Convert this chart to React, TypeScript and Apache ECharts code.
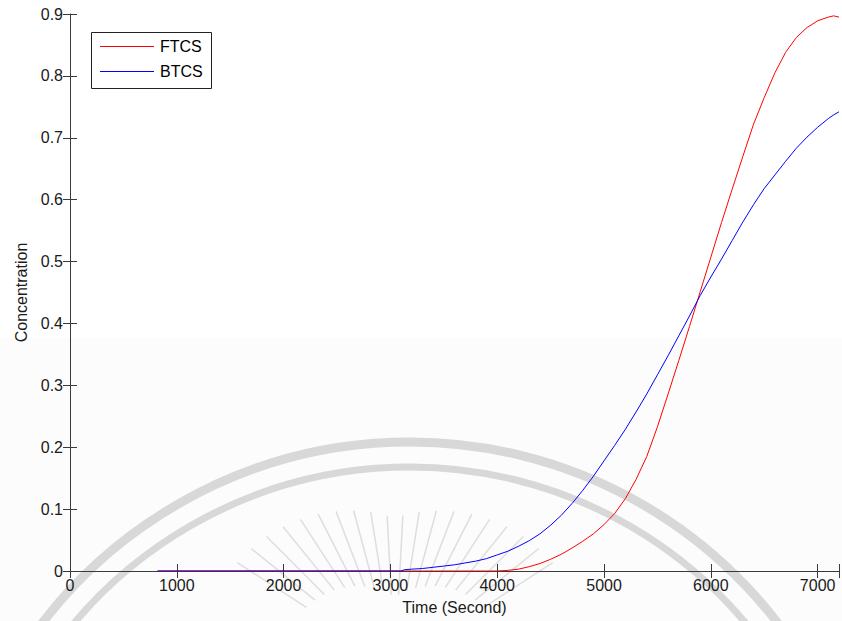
import React, { useEffect, useRef } from "react";
import * as echarts from "echarts";

// Time (s) sample points shared by both schemes
const timeSeconds = [
  820, 3100, 3130, 3200, 3300, 3400, 3500, 3600, 3700, 3800, 3900, 4000, 4100,
  4200, 4300, 4400, 4500, 4600, 4700, 4800, 4900, 5000, 5100, 5200, 5300, 5400,
  5500, 5600, 5700, 5800, 5900, 6000, 6100, 6200, 6300, 6400, 6500, 6600, 6700,
  6800, 6900, 7000, 7100, 7150, 7200,
];

// FTCS concentration
const ftcsValues = [
  0, 0, 0, 0, 0, 0, 0, 0, 0, 0, 0, 0, 0.001, 0.003, 0.007, 0.012, 0.019, 0.027,
  0.037, 0.048, 0.06, 0.075, 0.093, 0.117, 0.148, 0.185, 0.233, 0.286, 0.34,
  0.395, 0.451, 0.507, 0.563, 0.617, 0.67, 0.722, 0.765, 0.805, 0.838, 0.862,
  0.878, 0.889, 0.895, 0.897, 0.895,
];

// BTCS concentration
const btcsValues = [
  0, 0, 0.002, 0.003, 0.004, 0.006, 0.008, 0.01, 0.013, 0.016, 0.02, 0.026,
  0.032, 0.04, 0.049, 0.06, 0.074, 0.09, 0.109, 0.13, 0.153, 0.178, 0.203,
  0.229, 0.257, 0.286, 0.317, 0.348, 0.38, 0.412, 0.445, 0.475, 0.504, 0.534,
  0.564, 0.592, 0.618, 0.64, 0.662, 0.683, 0.701, 0.717, 0.731, 0.737, 0.742,
];

const seriesNames = ["FTCS", "BTCS"];
const seriesColors = ["#ff0000", "#0000ff"];
const xRange = [0, 7200];
const xTickStep = 1000;
const yRange = [0, 0.9];
const yTickStep = 0.1;
const xTitle = "Time (Second)";
const yTitle = "Concentration";

const FONT = "'Liberation Sans', Arial, Helvetica, sans-serif";
const AXIS_COLOR = "#3a3a3a";
const WM = "#d8d8d8";

function watermark() {
  const els: any[] = [
    {
      type: "rect",
      z: -3,
      silent: true,
      shape: { x: 0, y: 338, width: 842, height: 283 },
      style: { fill: "#fcfcfc" },
    },
    {
      type: "circle",
      z: -2,
      silent: true,
      shape: { cx: 410, cy: 906, r: 464 },
      style: { fill: "none", stroke: WM, lineWidth: 9 },
    },
    {
      type: "circle",
      z: -2,
      silent: true,
      shape: { cx: 410, cy: 906, r: 439 },
      style: { fill: "none", stroke: WM, lineWidth: 7 },
    },
  ];
  const cx = 395;
  const cy = 665;
  for (let a = -147; a <= -33; a += 6) {
    const t = (a * Math.PI) / 180;
    const c = Math.abs(Math.cos(t));
    const rOut = 147 + 49 * c;
    const rIn = 68 + 45 * c;
    els.push({
      type: "line",
      z: -2,
      silent: true,
      shape: {
        x1: cx + rIn * Math.cos(t),
        y1: cy + rIn * Math.sin(t),
        x2: cx + rOut * Math.cos(t),
        y2: cy + rOut * Math.sin(t),
      },
      style: { stroke: "#dedede", lineWidth: 1.5 },
    });
  }
  return els;
}

function legendBox() {
  const x0 = 91;
  const y0 = 32;
  const rowGap = 25;
  const children: any[] = [
    {
      type: "rect",
      shape: { x: x0 + 0.5, y: y0 + 0.5, width: 120, height: 56 },
      style: { fill: "#ffffff", stroke: "#222", lineWidth: 1 },
    },
  ];
  seriesNames.forEach((name, i) => {
    const y = y0 + 14 + i * rowGap + 0.5;
    children.push({
      type: "line",
      shape: { x1: x0 + 9, y1: y, x2: x0 + 63, y2: y },
      style: { stroke: seriesColors[i], lineWidth: 1 },
    });
    children.push({
      type: "text",
      x: x0 + 69,
      y: y,
      style: {
        text: name,
        fontFamily: FONT,
        fontSize: 16,
        fill: "#000",
        verticalAlign: "middle",
        align: "left",
      },
    });
  });
  return { type: "group", z: 100, silent: true, children };
}

export default function App() {
  const ref = useRef<HTMLDivElement>(null);
  useEffect(() => {
    if (!ref.current) return;
    const chart = echarts.init(ref.current, undefined, { renderer: "svg" });
    const ftcsData = timeSeconds.map((t, i) => [t, ftcsValues[i]]);
    const btcsData = timeSeconds.map((t, i) => [t, btcsValues[i]]);
    const tickLabel = {
      fontFamily: FONT,
      fontSize: 16,
      color: "#1a1a1a",
    };
    const xCommon = {
      type: "value",
      min: xRange[0],
      max: xRange[1],
      interval: xTickStep,
      splitLine: { show: false },
      axisLine: { show: true, lineStyle: { color: AXIS_COLOR, width: 1 } },
      axisTick: { show: true, inside: true, length: 7, lineStyle: { color: AXIS_COLOR } },
    };
    const yCommon = {
      type: "value",
      min: yRange[0],
      max: yRange[1],
      interval: yTickStep,
      splitLine: { show: false },
      axisTick: { show: true, inside: true, length: 7, lineStyle: { color: AXIS_COLOR } },
    };
    chart.setOption({
      animation: false,
      backgroundColor: "#ffffff",
      textStyle: { fontFamily: FONT },
      grid: { left: 70, top: 14, width: 772, height: 557, containLabel: false },
      graphic: [...watermark(), legendBox()],
      xAxis: [
        {
          ...xCommon,
          position: "bottom",
          name: xTitle,
          nameLocation: "middle",
          nameGap: 28,
          nameTextStyle: { fontFamily: FONT, fontSize: 16, color: "#1a1a1a" },
          axisLabel: {
            ...tickLabel,
            margin: 6,
            formatter: (v: number) => (v % xTickStep === 0 ? String(v) : ""),
          },
        },
        {
          ...xCommon,
          position: "top",
          axisLabel: { show: false },
        },
      ],
      yAxis: [
        {
          ...yCommon,
          position: "left",
          name: yTitle,
          nameLocation: "middle",
          nameGap: 41,
          nameTextStyle: { fontFamily: FONT, fontSize: 16, color: "#1a1a1a" },
          axisLine: { show: true, lineStyle: { color: AXIS_COLOR, width: 1 } },
          axisLabel: { ...tickLabel, margin: 7 },
        },
        {
          ...yCommon,
          position: "right",
          axisLine: { show: false },
          axisLabel: { show: false },
        },
      ],
      series: [
        {
          name: seriesNames[0],
          type: "line",
          data: ftcsData,
          symbol: "none",
          z: 5,
          lineStyle: { color: seriesColors[0], width: 1 },
          itemStyle: { color: seriesColors[0] },
        },
        {
          name: seriesNames[1],
          type: "line",
          data: btcsData,
          symbol: "none",
          z: 6,
          lineStyle: { color: seriesColors[1], width: 1 },
          itemStyle: { color: seriesColors[1] },
        },
      ],
    });
    return () => chart.dispose();
  }, []);
  return (
    <div
      ref={ref}
      style={{ position: "absolute", left: 0, top: 0, width: 842, height: 621 }}
    />
  );
}
